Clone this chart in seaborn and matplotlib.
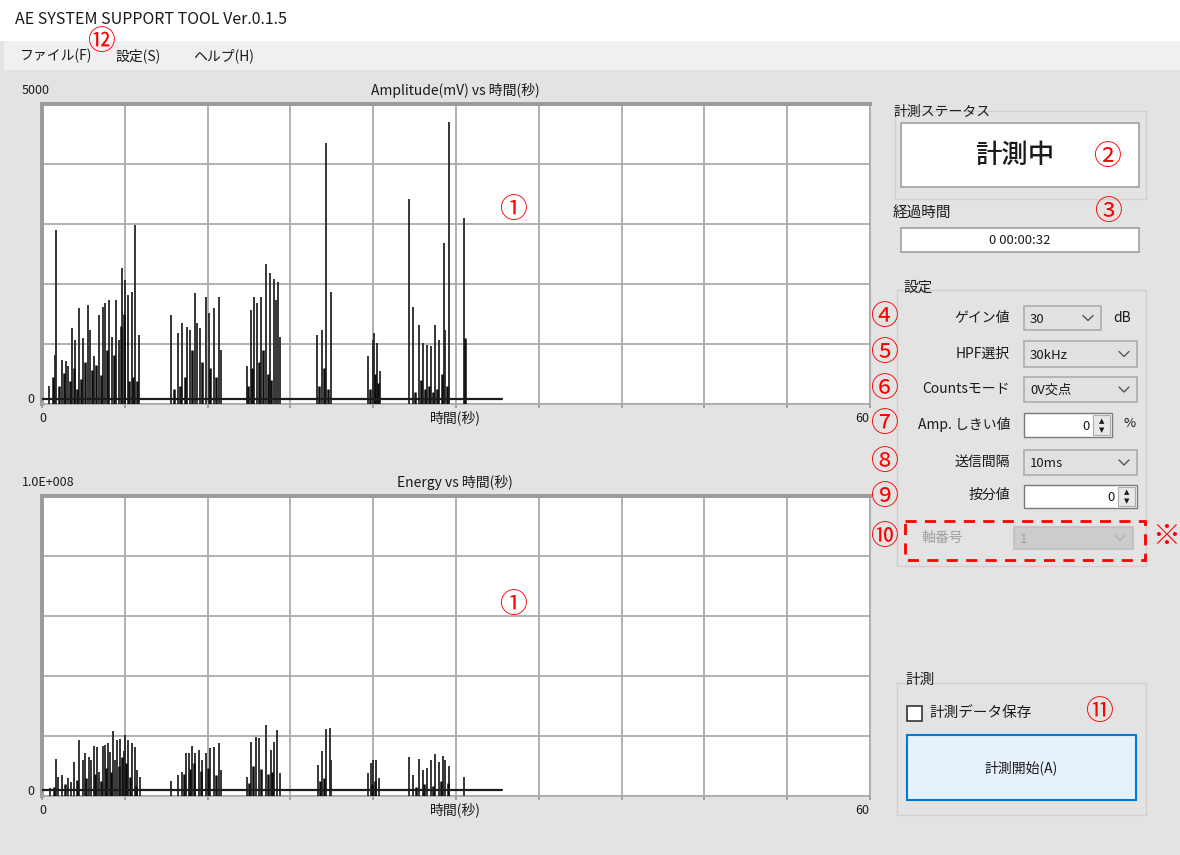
import numpy as np
import pandas as pd
import matplotlib
matplotlib.use('Agg')
import matplotlib.pyplot as plt
from matplotlib.patches import Rectangle
import seaborn as sns

# Amplitude hits (time s, mV) - the tall ones
amp_t = [0.52, 0.96, 1.0, 1.44, 1.73, 1.92, 2.2, 2.41, 2.7, 3.0, 3.33, 3.5, 3.74, 4.1, 4.39,
         4.54, 4.83, 5.07, 5.36, 5.55, 5.8, 6.04, 6.23, 6.52, 6.72, 7.05,
         9.38, 9.86, 10.15, 10.52, 10.76, 11.07, 11.24, 11.48, 11.9, 12.09, 12.45, 12.82, 12.94,
         14.87, 15.12, 15.36, 15.6, 15.85, 16.2, 16.5, 16.82, 16.98, 17.13, 17.23,
         19.96, 20.27, 20.6, 20.93,
         23.59, 23.95, 24.08, 24.25, 24.49,
         26.6, 26.9, 27.3, 27.6, 27.9, 28.2, 28.5, 28.8, 29.1, 29.2, 29.5, 30.6]
amp_v = [293, 820, 2900, 737, 716, 626, 1265, 1070, 1600, 1100, 1650, 1236, 792, 1486, 1624,
         1680, 1735, 1125, 1735, 1070, 2263, 2068, 1818, 1874, 2984, 1153,
         1486, 1181, 1348, 1291, 1236, 1847, 1348, 1265, 1790, 1514, 1600, 1790, 904,
         626, 1570, 1790, 1680, 1790, 2335, 2180, 2080, 1735, 2040, 1125,
         1153, 1236, 4348, 1874,
         792, 1070, 1181, 1015, 543,
         3421, 1624, 1320, 1015, 987, 959, 1320, 1070, 2680, 1236, 4703, 3100]

# Amplitude hits - the short dense ones
amp_small_t = [0.8, 1.2, 1.6, 2.05, 2.3, 2.55, 2.85, 3.15, 3.6, 3.9, 4.25, 4.7, 5.2, 5.7, 5.95,
               6.3, 6.6, 6.9, 9.6, 10.0, 10.35, 10.9, 11.6, 12.2, 12.6, 14.95, 15.25, 15.7,
               16.05, 16.35, 16.6, 20.1, 20.45, 20.7, 23.8, 24.15, 24.35, 27.0, 27.45, 27.75,
               28.05, 28.35, 28.65, 29.0, 29.35, 30.65]
amp_small_v = [450, 300, 520, 380, 600, 250, 420, 700, 560, 650, 480, 900, 820, 1300, 1500,
               380, 450, 380, 250, 300, 450, 900, 700, 600, 450, 300, 600, 700,
               900, 500, 400, 300, 600, 250, 250, 500, 350, 200, 400, 250,
               300, 200, 250, 500, 300, 1100]

# Energy hits (time s, energy)
energy_t = [0.59, 1.0, 1.15, 1.44, 1.88, 2.12, 2.29, 2.7, 2.94, 3.09, 3.38, 3.57, 3.74, 3.98,
            4.15, 4.39, 4.54, 4.78, 4.95, 5.14, 5.31, 5.43, 5.68, 5.92, 6.04, 6.23, 6.52,
            6.72, 6.89, 7.13,
            9.38, 9.86, 10.15, 10.45, 10.64, 10.88, 11.12, 11.36, 11.6, 11.85, 12.21, 12.45,
            12.82, 12.94,
            14.87, 15.12, 15.48, 15.72, 16.2, 16.57, 16.81, 17.05, 17.22,
            20.03, 20.27, 20.56, 20.86, 20.93,
            23.59, 23.83, 24.0, 24.2, 24.44,
            26.62, 26.9, 27.3, 27.58, 27.87, 28.19, 28.5, 28.8, 29.08, 29.23, 29.52, 30.61]
energy_v = [2.6e6, 1.22e7, 6.4e6, 7.0e6, 5.9e6, 4.8e6, 1.14e7, 1.87e7, 1.2e7, 1.42e7, 1.31e7,
            1.2e7, 1.67e7, 1.64e7, 8.1e6, 1.67e7, 1.7e7, 1.76e7, 1.48e7, 2.18e7, 1.2e7, 1.87e7,
            1.89e7, 1.49e7, 2.03e7, 1.87e7, 1.78e7, 1.64e7, 8.7e6, 6.4e6,
            5.1e6, 7.0e6, 8.1e6, 1.42e7, 1.44e7, 1.67e7, 1.42e7, 1.53e7, 1.2e7, 1.42e7, 1.59e7,
            1.62e7, 1.76e7, 8.7e6,
            6.4e6, 1.81e7, 1.98e7, 1.92e7, 2.37e7, 1.53e7, 1.81e7, 2.2e7, 7.6e6,
            1.03e7, 1.51e7, 2.22e7, 2.26e7, 1.2e7,
            7.6e6, 1.09e7, 1.2e7, 1.2e7, 5.9e6,
            1.29e7, 7.0e6, 1.22e7, 8.7e6, 9.2e6, 1.2e7, 1.4e7, 1.14e7, 1.33e7, 1.2e7, 1.0e7, 6.4e6]

# Energy hits - short dense ones
energy_small_t = [0.9, 1.7, 2.5, 3.2, 3.85, 4.3, 4.65, 5.0, 5.55, 5.8, 6.1, 6.4, 6.8,
                  10.3, 10.75, 11.0, 11.5, 12.0, 12.6, 15.0, 15.3, 15.9, 16.4, 16.7,
                  20.15, 20.45, 23.9, 24.1, 27.1, 27.7, 28.3, 28.9, 29.4]
energy_small_v = [3.0e6, 4.0e6, 5.5e6, 6.0e6, 7.5e6, 5.0e6, 9.5e6, 8.0e6, 1.0e7, 1.3e7, 1.1e7,
                  6.5e6, 3.5e6, 7.5e6, 9.0e6, 1.1e7, 8.5e6, 9.5e6, 7.0e6, 4.5e6, 1.0e7, 9.0e6,
                  7.5e6, 8.0e6, 5.0e6, 6.0e6, 4.0e6, 5.0e6, 3.0e6, 4.0e6, 3.5e6, 5.0e6, 4.5e6]

trace_end = 33.3          # seconds recorded so far
amp_floor = 80            # noise floor, mV
energy_floor = 2.0e6

amp_max = 5000
energy_max = 1.0e8
x_max = 60

sns.set_theme(style='white')
plt.rcParams['font.family'] = ['Noto Sans CJK JP', 'DejaVu Sans']

W, H = 1180, 855
fig = plt.figure(figsize=(W / 100, H / 100), dpi=100)
fig.patch.set_facecolor('#e3e3e3')

ui = fig.add_axes([0, 0, 1, 1])
ui.set_xlim(0, W)
ui.set_ylim(H, 0)
ui.axis('off')

INK = '#1a1a1a'
RED = '#ff0000'


def box(x0, y0, x1, y1, fc, ec='none', lw=1.0, ls='-', ax=ui):
    ax.add_patch(Rectangle((x0, y0), x1 - x0, y1 - y0, facecolor=fc, edgecolor=ec,
                           linewidth=lw, linestyle=ls))


def txt(x, y, s, size=10, color=INK, ha='left', ax=ui, **kw):
    ax.text(x, y, s, fontsize=size, color=color, ha=ha, va='center', **kw)


def chevron(cx, cy, color='#555555'):
    ui.plot([cx - 5, cx, cx + 5], [cy - 2.5, cy + 2.5, cy - 2.5], color=color, lw=1)


def combo(x0, y0, x1, y1, label, disabled=False):
    box(x0, y0, x1, y1, '#cccccc' if disabled else '#e1e1e1',
        ec='#bfbfbf' if disabled else '#adadad', lw=1.2)
    txt(x0 + 6, (y0 + y1) / 2 + 1, label, size=9.5, color='#a0a0a0' if disabled else INK)
    chevron(x1 - 13, (y0 + y1) / 2, '#b0b0b0' if disabled else '#555555')


def spin(x0, y0, x1, y1, value):
    box(x0, y0, x1, y1, 'white', ec='#7a7a7a', lw=1)
    txt(x1 - 22, (y0 + y1) / 2 + 1, value, size=9.5, ha='right')
    box(x1 - 19, y0 + 2, x1 - 2, y1 - 2, '#e8e8e8', ec='#adadad', lw=0.8)
    txt(x1 - 10.5, (y0 + y1) / 2 - 4, '▲', size=5, ha='center', family='DejaVu Sans')
    txt(x1 - 10.5, (y0 + y1) / 2 + 5, '▼', size=5, ha='center', family='DejaVu Sans')


# title and menu bars
box(0, 0, W, 41, 'white')
box(4, 41, W, 70, '#f0f0f0')
txt(15, 20, 'AE SYSTEM SUPPORT TOOL Ver.0.1.5', size=11.5)
txt(20, 56, 'ファイル(F)', size=10)
txt(115, 56, '設定(S)', size=10)
txt(193, 56, 'ヘルプ(H)', size=10)


def chart(top, bottom, t, v, small_t, small_v, floor, ymax, ymax_label, title):
    ax = fig.add_axes([42 / W, 1 - bottom / H, 828 / W, (bottom - top) / H])
    ax.set_facecolor('white')
    ax.vlines(t, 0, v, color='#262626', lw=1.3, zorder=3)
    ax.vlines(small_t, 0, small_v, color='#0d0d0d', lw=1.8, zorder=3)
    base = pd.DataFrame({'t': [0, trace_end], 'v': [floor, floor]})
    sns.lineplot(data=base, x='t', y='v', ax=ax, color='#1c1c1c', lw=1.6, zorder=3)
    ax.set_xlim(0, x_max)
    ax.set_ylim(0, ymax)
    ax.set_xticks(np.arange(0, x_max + 1, 6))
    ax.set_yticks(np.linspace(0, ymax, 6))
    ax.set_xticklabels([])
    ax.set_yticklabels([])
    ax.set_xlabel('')
    ax.set_ylabel('')
    ax.grid(True, color='#ababab', lw=1.3)
    ax.set_axisbelow(True)
    ax.tick_params(axis='x', bottom=True, length=3, color='#9a9a9a', direction='out')
    ax.tick_params(axis='y', left=False)
    for side in ('top', 'left'):
        ax.spines[side].set_color('#9a9a9a')
        ax.spines[side].set_linewidth(2.8)
    for side in ('right', 'bottom'):
        ax.spines[side].set_color('#a8a8a8')
        ax.spines[side].set_linewidth(1.2)
    # labels around the chart
    txt(22, top - 14, ymax_label, size=9)
    txt(455, top - 14, title, size=10, ha='center')
    txt(27, bottom - 5, '0', size=9)
    txt(43, bottom + 14, '0', size=9, ha='center')
    txt(455, bottom + 14, '時間(秒)', size=10, ha='center')
    txt(862, bottom + 14, '60', size=9, ha='center')
    return ax


ax_amp = chart(104, 404, amp_t, amp_v, amp_small_t, amp_small_v, amp_floor,
               amp_max, '5000', 'Amplitude(mV) vs 時間(秒)')
ax_en = chart(496, 796, energy_t, energy_v, energy_small_t, energy_small_v, energy_floor,
              energy_max, '1.0E+008', 'Energy vs 時間(秒)')

# right hand panel
box(895, 111, 1146, 199, 'none', ec='#d0d0d0', lw=1)
txt(893, 112, '計測ステータス', size=10)
box(901, 123, 1139, 187, 'white', ec='#a0a0a0', lw=1.2)
txt(1015, 155, '計測中', size=19, ha='center', weight='medium')

txt(893, 213, '経過時間', size=10.5)
box(901, 228, 1139, 252, 'white', ec='#a0a0a0', lw=1.2)
txt(1020, 240, '0 00:00:32', size=9.5, ha='center')

box(897, 290, 1146, 566, 'none', ec='#d0d0d0', lw=1)
txt(903, 288, '設定', size=10.5)

row_labels = ['ゲイン値', 'HPF選択', 'Countsモード', 'Amp. しきい値', '送信間隔', '按分値']
row_y = [318, 354, 389, 424, 462, 495]
for lab, y in zip(row_labels, row_y):
    txt(1010, y, lab, size=10, ha='right')

combo(1024, 306, 1101, 330, '30')
txt(1113, 318, 'dB', size=10)
combo(1024, 341, 1137, 367, '30kHz')
combo(1024, 377, 1137, 402, '0V交点')
spin(1024, 413, 1112, 437, '0')
txt(1124, 423, '%', size=9.5)
combo(1024, 450, 1137, 475, '10ms')
spin(1024, 485, 1137, 508, '0')

txt(921, 538, '軸番号', size=10, color='#a0a0a0')
combo(1014, 527, 1133, 549, '1', disabled=True)
box(905, 521, 1145, 560, 'none', ec=RED, lw=2, ls=(0, (4, 3)))

box(897, 683, 1146, 815, 'none', ec='#d0d0d0', lw=1)
txt(905, 680, '計測', size=10.5)
box(907, 706, 922, 721, 'white', ec='#333333', lw=1.2)
txt(929, 713, '計測データ保存', size=10.5)
box(907, 735, 1136, 800, '#e5f1fb', ec='#0078d7', lw=1.5)
txt(1021, 768, '計測開始(A)', size=10, ha='center')

# red callout numbers on top of everything
top = fig.add_axes([0, 0, 1, 1], facecolor='none')
top.set_xlim(0, W)
top.set_ylim(H, 0)
top.axis('off')
marks = [('⑫', 101, 42), ('①', 513, 210), ('①', 513, 605), ('②', 1107, 157), ('③', 1108, 212),
         ('④', 884, 317), ('⑤', 884, 353), ('⑥', 884, 389), ('⑦', 884, 424), ('⑧', 884, 462),
         ('⑨', 884, 497), ('⑩', 884, 537), ('⑪', 1099, 712), ('※', 1166, 537)]
for s, x, y in marks:
    txt(x, y, s, size=20, color=RED, ha='center', ax=top)

fig.savefig('out.png', dpi=100, facecolor=fig.get_facecolor())
